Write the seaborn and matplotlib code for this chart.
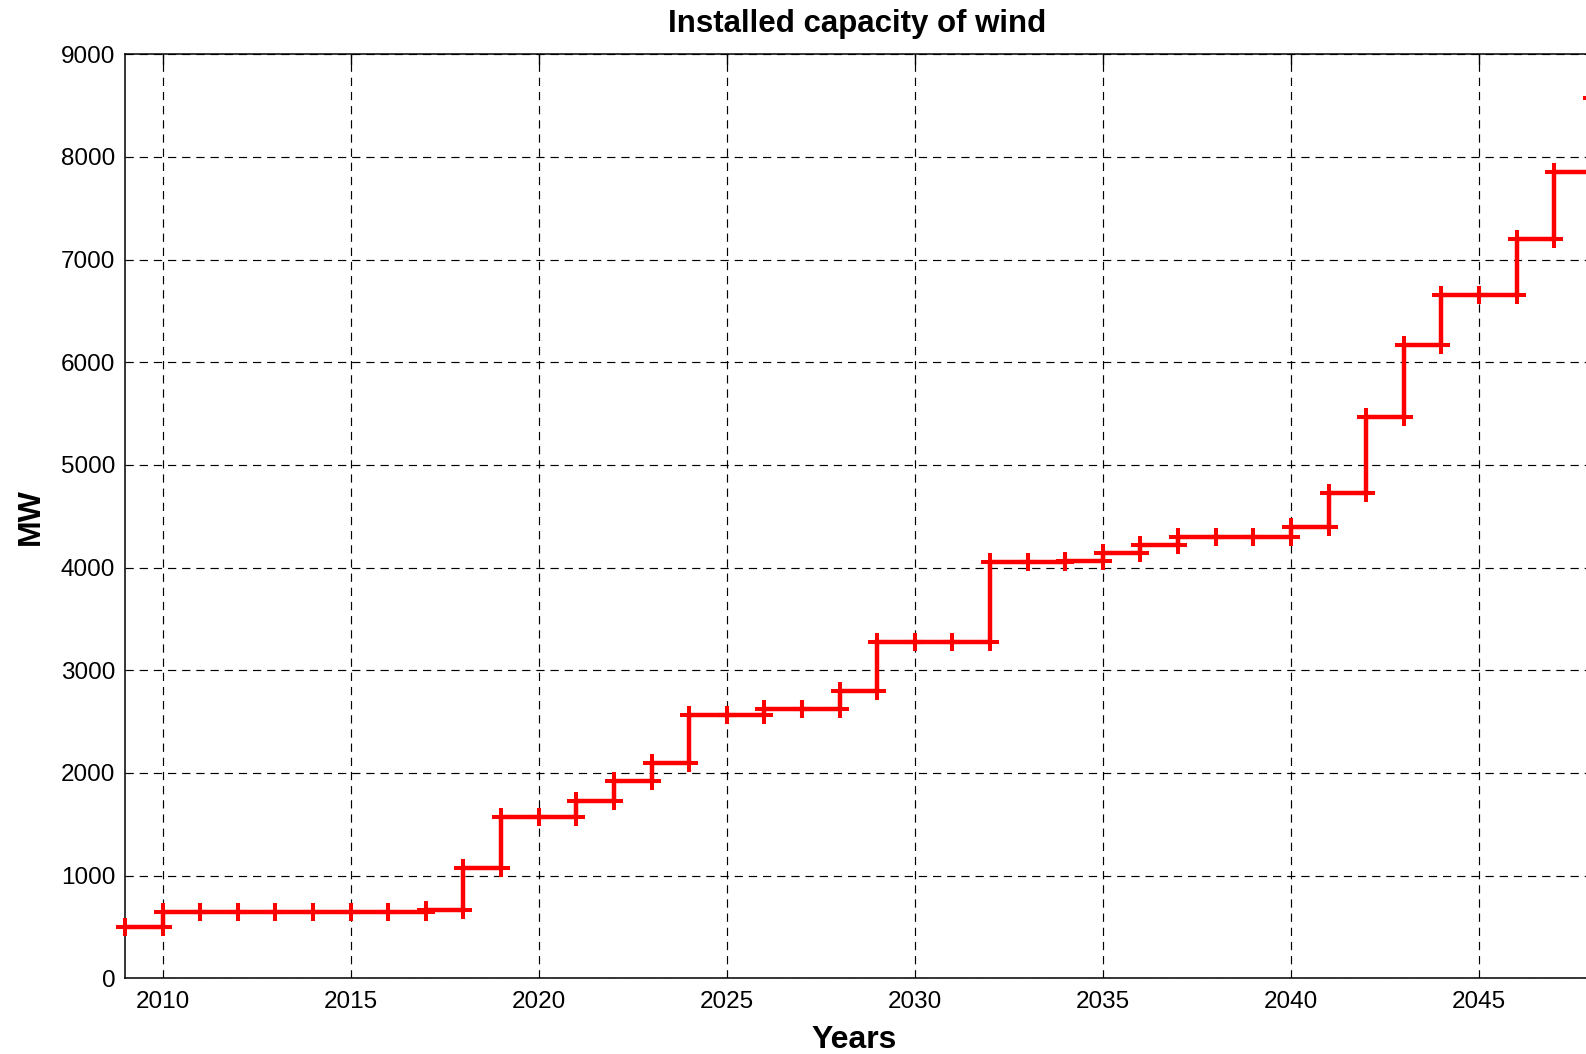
import numpy as np
import pandas as pd
import matplotlib
matplotlib.use("Agg")
import matplotlib.pyplot as plt
import seaborn as sns

# Installed wind capacity (MW) per year; each value holds until the next year
years = list(range(2009, 2049))
capacity_mw = [
    500, 650, 650, 650, 650, 650, 650, 650, 670, 1070,
    1570, 1570, 1725, 1920, 2100, 2565, 2565, 2620, 2620, 2800,
    3280, 3280, 3280, 4050, 4050, 4065, 4140, 4220, 4300, 4300,
    4300, 4400, 4725, 5470, 6170, 6655, 6655, 7200, 7850, 8570,
]
x_ticks = list(range(2010, 2050, 5))
y_ticks = list(range(0, 10000, 1000))

# Staircase vertices: (x_i, y_i) -> (x_{i+1}, y_i) -> (x_{i+1}, y_{i+1}) ...
x = np.asarray(years, dtype=float)
y = np.asarray(capacity_mw, dtype=float)
stair_x = np.concatenate([[x[0]], np.repeat(x[1:], 2)])
stair_y = np.concatenate([np.repeat(y[:-1], 2), [y[-1]]])
stairs = pd.DataFrame({"Years": stair_x, "MW": stair_y})

sns.set_style("white")
plt.rcParams["font.family"] = ["Liberation Sans", "DejaVu Sans"]
plt.rcParams["text.color"] = "black"
plt.rcParams["axes.labelcolor"] = "black"

W, H = 1586, 1054
fig = plt.figure(figsize=(W / 100, H / 100), dpi=100)
left, right = 125, 1667
top, bottom = 54.3, 978.3
ax = fig.add_axes([left / W, (H - bottom) / H, (right - left) / W, (bottom - top) / H])

sns.lineplot(
    data=stairs, x="Years", y="MW", sort=False, estimator=None, ax=ax,
    color="#ff0000", linewidth=3.2, marker="+", markersize=13,
    markeredgewidth=2.9, markeredgecolor="#ff0000", zorder=3, clip_on=False,
)

ax.set_xlim(2009, 2050)
ax.set_ylim(0, 9000)
ax.set_xticks(x_ticks)
ax.set_yticks(y_ticks)

ax.grid(True, color="black", linestyle=(0, (7, 5)), linewidth=0.85)
for s in ax.spines.values():
    s.set_visible(True)
    s.set_color("black")
    s.set_linewidth(1.1)

ax.tick_params(axis="both", direction="in", length=7, width=1, colors="black",
               labelsize=17.5, top=True, right=True, pad=7)
ax.tick_params(axis="x", pad=9)

# Title and x label centred over the visible part of the plot area
ax.set_title("Installed capacity of wind", fontsize=22.5, fontweight="bold",
             x=0.4745, pad=16)
ax.set_xlabel("Years", fontsize=23, fontweight="bold", labelpad=9, x=0.473)
ax.set_ylabel("MW", fontsize=23, fontweight="bold", labelpad=11)

fig.savefig("out.png", dpi=100)
